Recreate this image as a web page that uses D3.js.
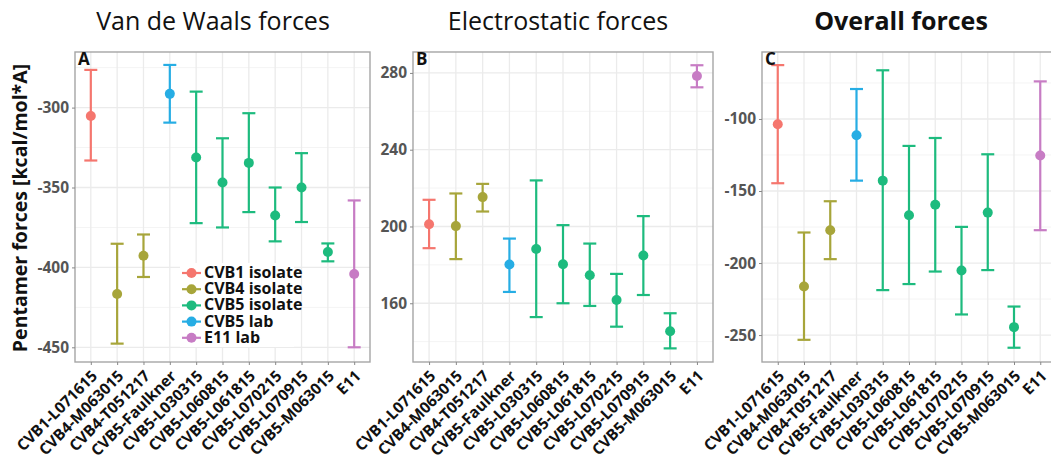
<!DOCTYPE html>
<html>
<head>
<meta charset="utf-8">
<script src="https://cdn.jsdelivr.net/npm/d3@7"></script>
<style>
  html, body { margin: 0; padding: 0; background: #fff; }
  svg { display: block; font-family: "Open Sans", "Noto Sans", sans-serif; }
</style>
</head>
<body>
<svg id="chart" width="1051" height="466"></svg>
<script>
// Strains on the x axis and the group each belongs to
const strains = ["CVB1-L071615", "CVB4-M063015", "CVB4-T051217", "CVB5-Faulkner",
  "CVB5-L030315", "CVB5-L060815", "CVB5-L061815", "CVB5-L070215",
  "CVB5-L070915", "CVB5-M063015", "E11"];
const groups = ["CVB1 isolate", "CVB4 isolate", "CVB4 isolate", "CVB5 lab",
  "CVB5 isolate", "CVB5 isolate", "CVB5 isolate", "CVB5 isolate",
  "CVB5 isolate", "CVB5 isolate", "E11 lab"];
const legendGroups = ["CVB1 isolate", "CVB4 isolate", "CVB5 isolate", "CVB5 lab", "E11 lab"];
const groupColors = ["#F5766E", "#A7A53A", "#1DBB7E", "#26ADE4", "#C77CC4"];

// Van de Waals forces: mean, lower, upper
const vdwMean  = [-305.2, -416.6, -392.7, -291.4, -331.2, -346.9, -334.6, -367.5, -350.0, -390.4, -404.1];
const vdwLow   = [-333.1, -447.7, -406.0, -309.4, -372.3, -375.0, -365.4, -383.7, -371.6, -396.2, -450.0];
const vdwHigh  = [-276.4, -385.2, -379.4, -273.3, -290.0, -319.2, -303.5, -350.0, -328.5, -385.0, -358.1];

// Electrostatic forces: mean, lower, upper
const elecMean = [201.2, 200.2, 215.3, 180.2, 188.3, 180.3, 174.6, 161.7, 184.9, 145.4, 278.4];
const elecLow  = [188.7, 183.0, 207.8, 165.9, 152.8, 160.0, 158.6, 147.8, 164.3, 136.5, 272.5];
const elecHigh = [213.9, 217.2, 222.2, 193.7, 224.0, 200.7, 191.1, 175.3, 205.4, 154.8, 284.0];

// Overall forces: mean, lower, upper
const allMean  = [-103.7, -216.3, -177.2, -111.3, -142.8, -166.8, -159.6, -205.2, -165.0, -244.5, -125.4];
const allLow   = [-144.6, -253.3, -197.3, -142.8, -218.8, -214.6, -205.9, -235.7, -204.9, -258.8, -177.2];
const allHigh  = [-62.6, -178.8, -157.1, -79.2, -66.2, -118.7, -113.2, -174.9, -124.5, -230.2, -73.9];

// Axis tick values for each panel
const vdwTicks  = [-450, -400, -350, -300];
const elecTicks = [160, 200, 240, 280];
const allTicks  = [-250, -200, -150, -100];

const svg = d3.select("#chart");
const color = d3.scaleOrdinal().domain(legendGroups).range(groupColors);

const plotTop = 52, plotBottom = 362;

const panels = [
  { title: "Van de Waals forces", bold: false, tag: "A", x0: 75, x1: 370,
    domain: [-459.2, -265.2], ticks: vdwTicks, mean: vdwMean, low: vdwLow, high: vdwHigh, titleX: 213 },
  { title: "Electrostatic forces", bold: false, tag: "B", x0: 413, x1: 713,
    domain: [129.4, 290.9], ticks: elecTicks, mean: elecMean, low: elecLow, high: elecHigh, titleX: 558 },
  { title: "Overall forces", bold: true, tag: "C", x0: 762, x1: 1056,
    domain: [-268.7, -53.5], ticks: allTicks, mean: allMean, low: allLow, high: allHigh, titleX: 901 }
];

panels.forEach(p => {
  const x = d3.scalePoint().domain(strains).range([p.x0, p.x1]).padding(0.6);
  const y = d3.scaleLinear().domain(p.domain).range([plotBottom, plotTop]);
  const g = svg.append("g");

  // panel background + grid
  g.append("rect").attr("x", p.x0).attr("y", plotTop)
    .attr("width", p.x1 - p.x0).attr("height", plotBottom - plotTop).attr("fill", "#fff");

  const step = p.ticks[1] - p.ticks[0];
  const minor = [];
  for (let v = p.ticks[0] - step / 2; v <= p.domain[1]; v += step) {
    if (v >= p.domain[0]) minor.push(v);
  }
  g.selectAll(".minor").data(minor).join("line")
    .attr("x1", p.x0).attr("x2", p.x1)
    .attr("y1", d => y(d)).attr("y2", d => y(d))
    .attr("stroke", "#F4F4F4").attr("stroke-width", 1);
  g.selectAll(".majorY").data(p.ticks).join("line")
    .attr("x1", p.x0).attr("x2", p.x1)
    .attr("y1", d => y(d)).attr("y2", d => y(d))
    .attr("stroke", "#EBEBEB").attr("stroke-width", 1.3);
  g.selectAll(".majorX").data(strains).join("line")
    .attr("x1", d => x(d)).attr("x2", d => x(d))
    .attr("y1", plotTop).attr("y2", plotBottom)
    .attr("stroke", "#EBEBEB").attr("stroke-width", 1.3);

  // legend box inside panel A sits above the grid
  if (p.tag === "A") {
    const lg = g.append("g");
    lg.append("rect").attr("x", 180).attr("y", 263).attr("width", 114).attr("height", 84)
      .attr("fill", "#fff");
    legendGroups.forEach((name, i) => {
      const cy = 273 + i * 16.2;
      lg.append("line").attr("x1", 182).attr("x2", 201).attr("y1", cy).attr("y2", cy)
        .attr("stroke", color(name)).attr("stroke-width", 2.2);
      lg.append("circle").attr("cx", 191.5).attr("cy", cy).attr("r", 5)
        .attr("fill", color(name));
      lg.append("text").attr("x", 204).attr("y", cy + 5)
        .attr("font-size", 16).attr("font-weight", 700).attr("fill", "#111")
        .text(name);
    });
  }

  // error bars
  const eb = g.selectAll(".eb").data(strains).join("g").attr("class", "eb");
  const cap = 6.5;
  eb.append("line")
    .attr("x1", d => x(d)).attr("x2", d => x(d))
    .attr("y1", (d, i) => y(p.low[i])).attr("y2", (d, i) => y(p.high[i]))
    .attr("stroke", (d, i) => color(groups[i])).attr("stroke-width", 2.2);
  eb.append("line")
    .attr("x1", d => x(d) - cap).attr("x2", d => x(d) + cap)
    .attr("y1", (d, i) => y(p.low[i])).attr("y2", (d, i) => y(p.low[i]))
    .attr("stroke", (d, i) => color(groups[i])).attr("stroke-width", 2.2);
  eb.append("line")
    .attr("x1", d => x(d) - cap).attr("x2", d => x(d) + cap)
    .attr("y1", (d, i) => y(p.high[i])).attr("y2", (d, i) => y(p.high[i]))
    .attr("stroke", (d, i) => color(groups[i])).attr("stroke-width", 2.2);
  eb.append("circle")
    .attr("cx", d => x(d)).attr("cy", (d, i) => y(p.mean[i])).attr("r", 5)
    .attr("fill", (d, i) => color(groups[i]));

  // panel border
  g.append("rect").attr("x", p.x0).attr("y", plotTop)
    .attr("width", p.x1 - p.x0).attr("height", plotBottom - plotTop)
    .attr("fill", "none").attr("stroke", "#A5A5A5").attr("stroke-width", 1.4);

  // y axis
  const ya = g.append("g").attr("transform", `translate(${p.x0},0)`)
    .call(d3.axisLeft(y).tickValues(p.ticks).tickSize(3).tickPadding(3));
  ya.select(".domain").remove();
  ya.selectAll(".tick line").attr("stroke", "#888");
  ya.selectAll(".tick text").attr("font-size", 15.5).attr("font-weight", 700)
    .attr("fill", "#555").attr("font-family", "'Open Sans', sans-serif")
    .text(d => d < 0 ? "-" + Math.abs(d) : d);

  // x axis
  const xa = g.append("g").attr("transform", `translate(0,${plotBottom})`)
    .call(d3.axisBottom(x).tickSize(3).tickPadding(2));
  xa.select(".domain").remove();
  xa.selectAll(".tick line").attr("stroke", "#888");
  xa.selectAll(".tick text")
    .attr("font-size", 15.5).attr("font-weight", 700).attr("fill", "#111")
    .attr("font-family", "'Open Sans', sans-serif")
    .attr("text-anchor", "end").attr("dy", null).attr("y", 0)
    .attr("transform", "translate(7,15) rotate(-45)");

  // panel tag
  g.append("text").attr("x", p.x0 + 3).attr("y", plotTop + 13)
    .attr("font-size", 17).attr("font-weight", 700).attr("fill", "#111")
    .text(p.tag);

  // panel title
  svg.append("text").attr("x", p.titleX).attr("y", 30)
    .attr("text-anchor", "middle").attr("font-size", 25)
    .attr("font-weight", p.bold ? 700 : 400).attr("fill", "#111")
    .text(p.title);
});

// shared y-axis title
svg.append("text")
  .attr("transform", "translate(27,208) rotate(-90)")
  .attr("text-anchor", "middle").attr("font-size", 19.5).attr("font-weight", 700)
  .attr("fill", "#111")
  .text("Pentamer forces [kcal/mol*A]");
</script>
</body>
</html>
